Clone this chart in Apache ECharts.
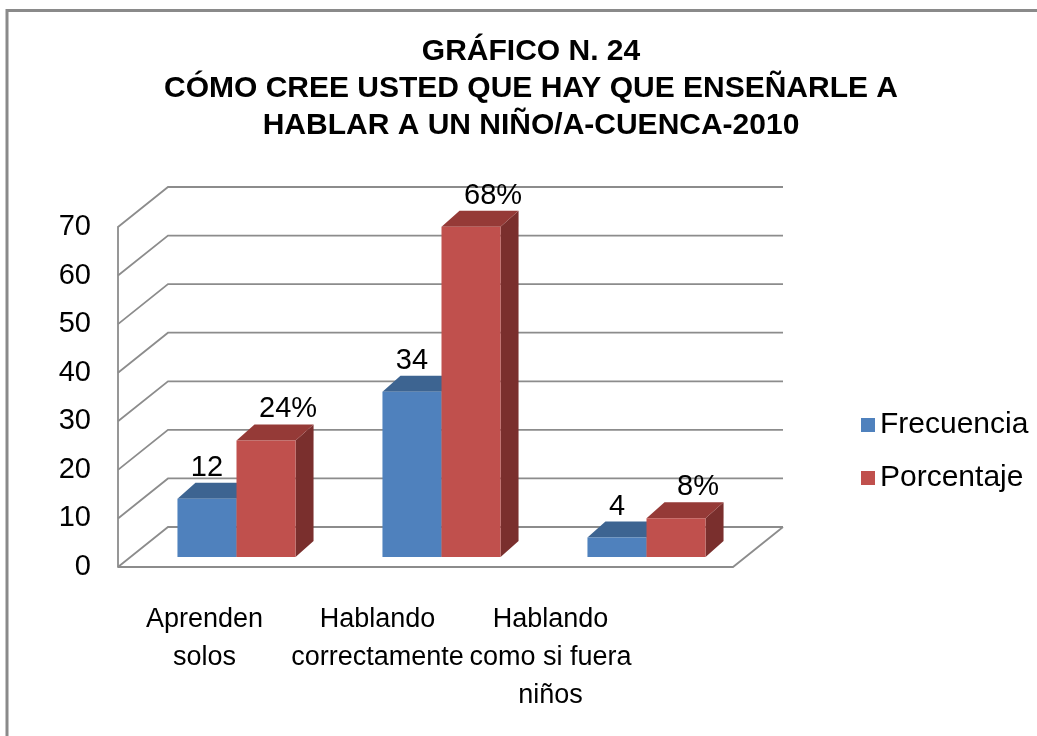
<!DOCTYPE html>
<html>
<head>
<meta charset="utf-8">
<title>Gráfico N. 24</title>
<script src="https://cdn.jsdelivr.net/npm/echarts@6/dist/echarts.min.js"></script>
<style>
  html, body { margin: 0; padding: 0; background: #fff; }
  #main { width: 1037px; height: 736px; }
</style>
</head>
<body>
<div id="main"></div>
<script type="text/javascript">
// datos
var categorias = ['Aprenden\nsolos', 'Hablando\ncorrectamente', 'Hablando\ncomo si fuera\nniños'];
var frecuencia = [12, 34, 4];
var porcentaje = [24, 68, 8];
var ticks = [0, 10, 20, 30, 40, 50, 60, 70];

var FONT = "'Liberation Sans', Arial, sans-serif";
var GRID_COLOR = '#8c8c8c';

// perspectiva de la pared y de las barras
var WALL_DX = 50, WALL_DY = -40;
var SHIFT_X = 16, SHIFT_Y = -10;
var DEPTH_X = 18, DEPTH_Y = -16;
var BAR_RATIO = 0.288;

var myChart = echarts.init(document.getElementById('main'));

function paredes(params, api) {
    var cs = params.coordSys;
    var y = api.coord([0, api.value(1)])[1];
    var pts = [[cs.x, y], [cs.x + WALL_DX, y + WALL_DY], [cs.x + cs.width + WALL_DX, y + WALL_DY]];
    var children = [{
        type: 'polyline',
        shape: { points: pts },
        style: { stroke: GRID_COLOR, lineWidth: 1.8, fill: null }
    }];
    if (api.value(1) === 0) {
        children.push({
            type: 'polyline',
            shape: { points: [[cs.x, y], [cs.x + cs.width, y], [cs.x + cs.width + WALL_DX, y + WALL_DY]] },
            style: { stroke: GRID_COLOR, lineWidth: 1.8, fill: null }
        });
    }
    return { type: 'group', children: children };
}

function barras(lado, colores, sufijo, labelDx) {
    return function (params, api) {
        var i = api.value(0), v = api.value(1);
        var top = api.coord([i, v]);
        var base = api.coord([i, 0]);
        var bw = api.size([1, 0])[0] * BAR_RATIO;
        var x0 = top[0] + SHIFT_X + (lado < 0 ? -bw : 0);
        var x1 = x0 + bw;
        var yT = top[1] + SHIFT_Y, yB = base[1] + SHIFT_Y;
        return {
            type: 'group',
            children: [{
                type: 'polygon',
                shape: { points: [[x1, yT], [x1 + DEPTH_X, yT + DEPTH_Y], [x1 + DEPTH_X, yB + DEPTH_Y], [x1, yB]] },
                style: { fill: colores[2] }
            }, {
                type: 'polygon',
                shape: { points: [[x0, yT], [x0 + DEPTH_X, yT + DEPTH_Y], [x1 + DEPTH_X, yT + DEPTH_Y], [x1, yT]] },
                style: { fill: colores[1] }
            }, {
                type: 'rect',
                shape: { x: x0, y: yT, width: bw, height: yB - yT },
                style: { fill: colores[0] }
            }, {
                type: 'text',
                style: {
                    text: v + sufijo,
                    x: (x0 + x1) / 2 + labelDx,
                    y: yT + DEPTH_Y - 15,
                    align: 'center',
                    verticalAlign: 'middle',
                    fontFamily: FONT,
                    fontSize: 29,
                    fill: '#000'
                }
            }]
        };
    };
}

myChart.setOption({
    animation: false,
    graphic: [{
        type: 'rect',
        shape: { x: 7, y: 10.5, width: 1100, height: 800 },
        style: { fill: null, stroke: '#8a8a8a', lineWidth: 3 },
        silent: true
    }],
    title: {
        text: 'GRÁFICO N. 24\nCÓMO CREE USTED QUE HAY QUE ENSEÑARLE A\nHABLAR A UN NIÑO/A-CUENCA-2010',
        left: 531,
        top: 33,
        textAlign: 'center',
        padding: 0,
        textStyle: {
            fontFamily: FONT,
            fontSize: 30,
            fontWeight: 'bold',
            lineHeight: 37,
            color: '#000'
        }
    },
    legend: {
        data: ['Frecuencia', 'Porcentaje'],
        orient: 'vertical',
        left: 856,
        top: 403,
        itemWidth: 14,
        itemHeight: 14,
        itemGap: 19,
        icon: 'rect',
        textStyle: { fontFamily: FONT, fontSize: 30, lineHeight: 34, color: '#000' }
    },
    grid: [
        { left: 118, right: 304, top: 227, bottom: 169 },
        { left: 118, width: 519, top: 227, bottom: 169 }
    ],
    xAxis: [{
        type: 'category',
        gridIndex: 0,
        data: categorias,
        axisLine: { show: false },
        axisTick: { show: false },
        axisLabel: { show: false }
    }, {
        type: 'category',
        gridIndex: 1,
        data: categorias,
        axisLine: { show: false },
        axisTick: { show: false },
        axisLabel: {
            margin: 34,
            fontFamily: FONT,
            fontSize: 27,
            lineHeight: 38,
            color: '#000',
            interval: 0
        }
    }],
    yAxis: [{
        type: 'value',
        gridIndex: 0,
        min: 0,
        max: 70,
        interval: 10,
        axisLine: { show: true, lineStyle: { color: GRID_COLOR, width: 1.8 } },
        axisTick: { show: false },
        splitLine: { show: false },
        axisLabel: { margin: 27, fontFamily: FONT, fontSize: 29, color: '#000' }
    }, {
        type: 'value',
        gridIndex: 1,
        min: 0,
        max: 70,
        show: false
    }],
    series: [{
        name: 'pared',
        type: 'custom',
        xAxisIndex: 0,
        yAxisIndex: 0,
        silent: true,
        z: 1,
        renderItem: paredes,
        data: ticks.map(function (t) { return [0, t]; })
    }, {
        name: 'Frecuencia',
        type: 'custom',
        xAxisIndex: 0,
        yAxisIndex: 0,
        z: 2,
        itemStyle: { color: '#4F81BD' },
        renderItem: barras(-1, ['#4F81BD', '#3D6491', '#30507A'], '', 0),
        data: frecuencia.map(function (v, i) { return [i, v]; })
    }, {
        name: 'Porcentaje',
        type: 'custom',
        xAxisIndex: 0,
        yAxisIndex: 0,
        z: 3,
        itemStyle: { color: '#C0504D' },
        renderItem: barras(1, ['#C0504D', '#953A37', '#7A2F2D'], '%', 22),
        data: porcentaje.map(function (v, i) { return [i, v]; })
    }]
});
</script>
</body>
</html>
